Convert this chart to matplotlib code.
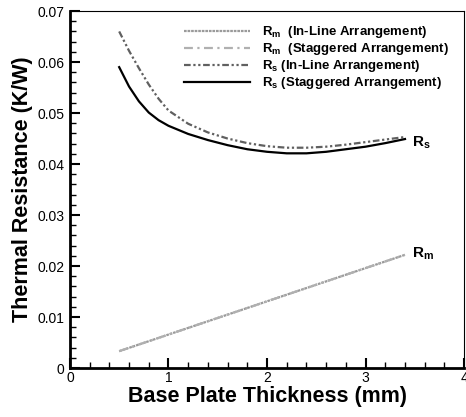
import matplotlib
matplotlib.use("Agg")
import matplotlib.pyplot as plt
from matplotlib.ticker import MultipleLocator

plt.rcParams['font.family'] = ['Liberation Sans', 'DejaVu Sans']
plt.rcParams['mathtext.fontset'] = 'custom'
plt.rcParams['mathtext.rm'] = 'Liberation Sans'
plt.rcParams['mathtext.bf'] = 'Liberation Sans:bold'

# base plate thickness (mm)
thickness = [0.5, 0.6, 0.7, 0.8, 0.9, 1.0, 1.2, 1.4, 1.6, 1.8, 2.0, 2.2, 2.4, 2.6, 2.8, 3.0, 3.2, 3.4]
# spreading resistance Rs (K/W)
rs_inline = [0.0660, 0.0622, 0.0588, 0.0556, 0.0528, 0.0505, 0.0479, 0.0462, 0.0450, 0.0441,
             0.0435, 0.0432, 0.0432, 0.0434, 0.0438, 0.0443, 0.0448, 0.0453]
rs_staggered = [0.0590, 0.0552, 0.0523, 0.0501, 0.0486, 0.0475, 0.0459, 0.0447, 0.0437, 0.0429,
                0.0424, 0.0421, 0.0421, 0.0424, 0.0429, 0.0434, 0.0441, 0.0449]
# material resistance Rm (K/W)
rm_x = [0.5, 3.4]
rm_inline = [0.0033, 0.0222]
rm_staggered = [0.0033, 0.0222]

x_ticks = [0, 1, 2, 3, 4]
x_labels = ['0', '1', '2', '3', '4']
y_ticks = [0, 0.01, 0.02, 0.03, 0.04, 0.05, 0.06, 0.07]
y_labels = ['0', '0.01', '0.02', '0.03', '0.04', '0.05', '0.06', '0.07']

fig = plt.figure(figsize=(4.66, 4.17), dpi=100)
ax = fig.add_axes([0.150, 0.1175, 0.846, 0.856])

ax.plot(rm_x, rm_inline, color='#9a9a9a', lw=1.6, dashes=(1.2, 0.4),
        label=r'R$_\mathregular{m}$  (In-Line Arrangement)')
ax.plot(rm_x, rm_staggered, color='#b0b0b0', lw=1.6, dashes=(4, 2, 1, 2),
        label=r'R$_\mathregular{m}$  (Staggered Arrangement)')
ax.plot(thickness, rs_inline, color='#606060', lw=1.6, dashes=(3, 1.2, 1, 1.2, 1, 1.2),
        label=r'R$_\mathregular{s}$ (In-Line Arrangement)')
ax.plot(thickness, rs_staggered, color='black', lw=1.6,
        label=r'R$_\mathregular{s}$ (Staggered Arrangement)')

ax.text(3.47, rs_staggered[-1] - 0.0007, r'R$_\mathregular{s}$', fontsize=11,
        fontweight='bold', va='center', ha='left')
ax.text(3.47, rm_inline[-1] + 0.0003, r'R$_\mathregular{m}$', fontsize=11,
        fontweight='bold', va='center', ha='left')

ax.set_xlim(0, 4)
ax.set_ylim(0, 0.07)
ax.set_xticks(x_ticks)
ax.set_xticklabels(x_labels)
ax.set_yticks(y_ticks)
ax.set_yticklabels(y_labels)
ax.xaxis.set_minor_locator(MultipleLocator(0.2))
ax.yaxis.set_minor_locator(MultipleLocator(0.002))

ax.tick_params(which='both', direction='in', top=False, right=False, labelsize=10)
ax.tick_params(which='major', length=7.5, width=1.5)
ax.tick_params(which='minor', length=4.3, width=1.0)
ax.tick_params(axis='x', pad=2)
ax.tick_params(axis='y', pad=4)

ax.spines['left'].set_linewidth(2.0)
ax.spines['bottom'].set_linewidth(2.0)
ax.spines['top'].set_linewidth(0.8)
ax.spines['right'].set_linewidth(0.8)

ax.set_xlabel('Base Plate Thickness (mm)', fontsize=15.5, fontweight='bold', labelpad=1)
ax.set_ylabel('Thermal Resistance (K/W)', fontsize=15.5, fontweight='bold', labelpad=3)

ax.legend(loc='upper left', bbox_to_anchor=(0.27, 0.985), frameon=False,
          handlelength=5.0, handletextpad=0.9, labelspacing=0.08, borderaxespad=0.2,
          prop={'weight': 'bold', 'size': 9.5})

fig.savefig('out.png', dpi=100)
